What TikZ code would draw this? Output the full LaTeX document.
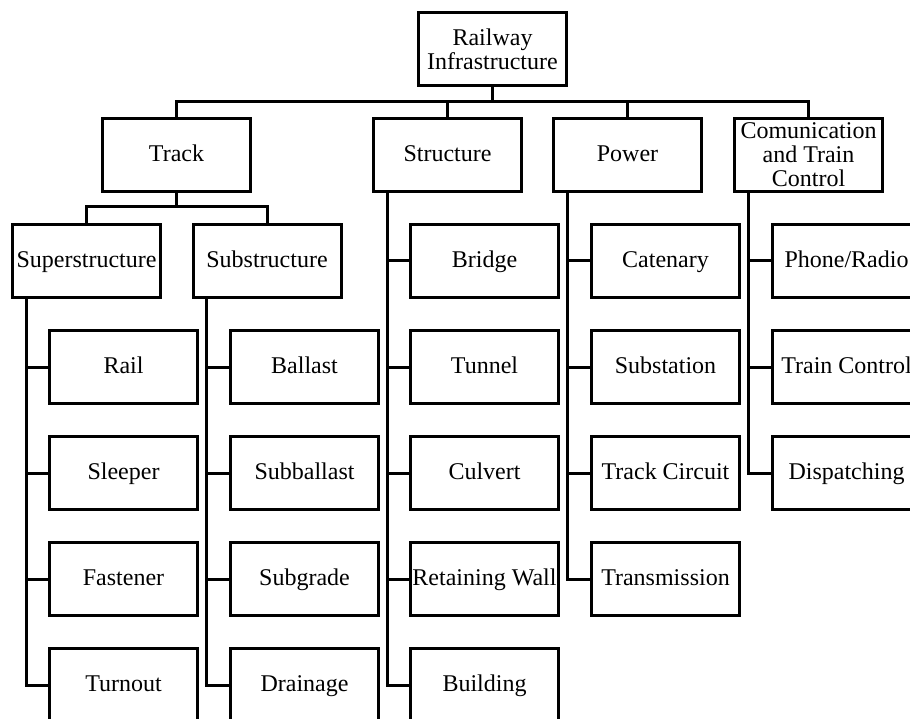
\documentclass[tikz,border=0pt]{standalone}
\usepackage{fontspec}
\setmainfont{Liberation Serif}
\begin{document}
\begin{tikzpicture}[x=1pt,y=-1pt,line width=3pt,
  box/.style={draw,minimum width=148pt,minimum height=73pt,inner sep=0pt,
    outer sep=0pt,align=center,font=\fontsize{24}{24}\selectfont},
  one/.style={box,text height=18pt,text depth=5pt},
  link/.style={draw,line width=3pt}]
\useasboundingbox (0,0) rectangle (910,719);
\clip (0,0) rectangle (910,719);

% top level
\node[box] (root) at (492.5,49) {Railway\\Infrastructure};

% main branches
\node[one] (track)     at (176.5,155) {Track};
\node[one] (structure) at (447.5,155) {Structure};
\node[one] (power)     at (627.5,155) {Power};
\node[box] (comm)      at (808.5,155) {Comunication\\and Train\\Control};

% track subdivisions
\node[one] (super) at (86.5,261) {Superstructure};
\node[one] (sub)   at (267,261)  {Substructure};

% superstructure items
\node[one] (rail)     at (123.5,367) {Rail};
\node[one] (sleeper)  at (123.5,473) {Sleeper};
\node[one] (fastener) at (123.5,579) {Fastener};
\node[one] (turnout)  at (123.5,685) {Turnout};

% substructure items
\node[one] (ballast)    at (304.5,367) {Ballast};
\node[one] (subballast) at (304.5,473) {Subballast};
\node[one] (subgrade)   at (304.5,579) {Subgrade};
\node[one] (drainage)   at (304.5,685) {Drainage};

% structure items
\node[one] (bridge)    at (484.5,261) {Bridge};
\node[one] (tunnel)    at (484.5,367) {Tunnel};
\node[one] (culvert)   at (484.5,473) {Culvert};
\node[one] (retaining) at (484.5,579) {Retaining Wall};
\node[one] (building)  at (484.5,685) {Building};

% power items
\node[one] (catenary)     at (665.5,261) {Catenary};
\node[one] (substation)   at (665.5,367) {Substation};
\node[one] (trackcircuit) at (665.5,473) {Track Circuit};
\node[one] (transmission) at (665.5,579) {Transmission};

% communication items
\node[one] (phone)        at (846.5,261) {Phone/Radio};
\node[one] (traincontrol) at (846.5,367) {Train Control};
\node[one] (dispatching)  at (846.5,473) {Dispatching};

% bus levels
\coordinate (bus)  at (0,102);
\coordinate (tbus) at (0,207);

% root to main branches
\draw[link] (root.south) -- (root.south |- bus);
\draw[link] (track.north) -- (track.north |- bus) -- (comm.north |- bus) -- (comm.north);
\draw[link] (structure.north) -- (structure.north |- bus);
\draw[link] (power.north) -- (power.north |- bus);

% track to its two parts
\draw[link] (track.south) -- (track.south |- tbus);
\draw[link] (super.north) -- (super.north |- tbus) -- (sub.north |- tbus) -- (sub.north);

% vertical spines
\coordinate (superSpine) at ([xshift=13.5pt]super.south west);
\coordinate (subSpine)   at ([xshift=13.5pt]sub.south west);
\coordinate (strSpine)   at ([xshift=13.5pt]structure.south west);
\coordinate (powSpine)   at ([xshift=13.5pt]power.south west);
\coordinate (comSpine)   at ([xshift=13.5pt]comm.south west);

\draw[link] (superSpine) |- (turnout.west);
\draw[link] (superSpine |- rail.west) -- (rail.west);
\draw[link] (superSpine |- sleeper.west) -- (sleeper.west);
\draw[link] (superSpine |- fastener.west) -- (fastener.west);

\draw[link] (subSpine) |- (drainage.west);
\draw[link] (subSpine |- ballast.west) -- (ballast.west);
\draw[link] (subSpine |- subballast.west) -- (subballast.west);
\draw[link] (subSpine |- subgrade.west) -- (subgrade.west);

\draw[link] (strSpine) |- (building.west);
\draw[link] (strSpine |- bridge.west) -- (bridge.west);
\draw[link] (strSpine |- tunnel.west) -- (tunnel.west);
\draw[link] (strSpine |- culvert.west) -- (culvert.west);
\draw[link] (strSpine |- retaining.west) -- (retaining.west);

\draw[link] (powSpine) |- (transmission.west);
\draw[link] (powSpine |- catenary.west) -- (catenary.west);
\draw[link] (powSpine |- substation.west) -- (substation.west);
\draw[link] (powSpine |- trackcircuit.west) -- (trackcircuit.west);

\draw[link] (comSpine) |- (dispatching.west);
\draw[link] (comSpine |- phone.west) -- (phone.west);
\draw[link] (comSpine |- traincontrol.west) -- (traincontrol.west);
\end{tikzpicture}
\end{document}
